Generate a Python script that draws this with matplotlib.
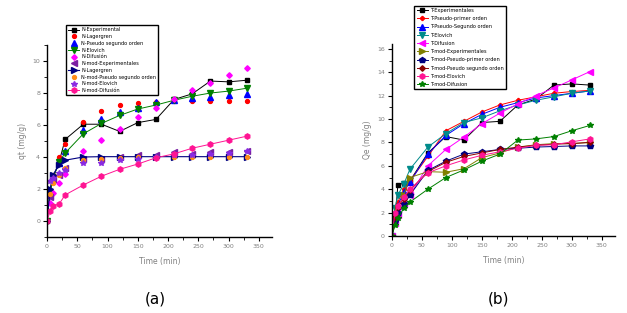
import numpy as np
import matplotlib.pyplot as plt
from matplotlib.ticker import MultipleLocator

# data
t_a = [0, 5, 10, 20, 30, 60, 90, 120, 150, 180, 210, 240, 270, 300, 330]
t_b = [0, 5, 10, 20, 30, 60, 90, 120, 150, 180, 210, 240, 270, 300, 330]

# (a) N series
n_exp = [0, 1.8, 2.7, 3.7, 5.1, 6.05, 6.05, 5.6, 6.15, 6.35, 7.6, 7.95, 8.75, 8.7, 8.8]
n_lag = [0, 1.9, 2.9, 4.0, 4.8, 6.2, 6.9, 7.25, 7.4, 7.45, 7.5, 7.52, 7.52, 7.52, 7.52]
n_pso = [0, 1.6, 2.6, 3.6, 4.4, 5.7, 6.4, 6.8, 7.05, 7.45, 7.55, 7.7, 7.75, 7.85, 7.95]
n_elo = [0, 1.7, 2.7, 3.7, 4.25, 5.45, 6.1, 6.6, 7.0, 7.25, 7.55, 7.8, 8.0, 8.12, 8.3]
n_dif = [0, 1.1, 1.75, 2.4, 2.95, 4.4, 5.05, 5.75, 6.5, 7.05, 7.6, 8.2, 8.65, 9.1, 9.55]
nm_exp = [0, 1.5, 2.6, 2.9, 3.3, 3.9, 3.9, 4.0, 4.1, 4.15, 4.3, 4.2, 4.3, 4.3, 4.35]
nm_lag = [0, 2.0, 2.9, 3.5, 3.8, 4.0, 4.02, 4.02, 4.02, 4.02, 4.02, 4.02, 4.02, 4.02, 4.02]
nm_pso = [0, 1.7, 2.4, 2.9, 3.3, 3.8, 3.9, 3.95, 3.97, 4.0, 4.0, 4.0, 4.0, 4.0, 4.0]
nm_elo = [0, 2.5, 2.7, 3.0, 3.2, 3.6, 3.6, 3.8, 3.9, 4.0, 4.1, 4.15, 4.2, 4.25, 4.35]
nm_dif = [0, 0.6, 0.96, 1.06, 1.63, 2.25, 2.8, 3.23, 3.56, 3.95, 4.2, 4.55, 4.8, 5.05, 5.3]

# (b) T series
t_exp = [0, 1.0, 4.4, 4.5, 4.7, 7.1, 8.5, 8.2, 9.7, 9.8, 11.2, 11.7, 12.9, 13.0, 12.9]
t_ppo = [0, 1.8, 2.9, 4.0, 4.7, 6.8, 9.0, 9.8, 10.6, 11.2, 11.6, 11.9, 12.2, 12.35, 12.45]
t_pso = [0, 1.5, 2.6, 3.8, 4.6, 7.0, 8.6, 9.6, 10.4, 11.0, 11.4, 11.8, 12.0, 12.2, 12.4]
t_elo = [0, 2.4, 3.5, 4.45, 5.7, 7.6, 8.75, 9.7, 10.1, 10.7, 11.2, 11.6, 11.9, 12.2, 12.4]
t_dif = [0, 1.1, 1.8, 2.7, 3.5, 6.0, 7.4, 8.45, 9.6, 10.5, 11.3, 12.0, 12.65, 13.35, 14.05]
tm_exp = [0, 1.5, 2.4, 3.5, 5.0, 5.5, 5.45, 5.75, 6.7, 7.1, 7.6, 7.8, 7.9, 7.9, 8.0]
tm_ppo = [0, 1.3, 2.0, 2.7, 3.5, 5.6, 6.4, 7.0, 7.2, 7.4, 7.5, 7.6, 7.65, 7.7, 7.7]
tm_pso = [0, 1.6, 2.5, 3.2, 3.9, 5.5, 6.3, 6.8, 7.1, 7.4, 7.6, 7.75, 7.85, 7.9, 8.0]
tm_elo = [0, 2.0, 2.6, 3.3, 4.0, 5.4, 6.0, 6.5, 6.9, 7.2, 7.5, 7.75, 7.8, 8.05, 8.3]
tm_dif = [0, 0.9, 1.5, 2.4, 2.9, 4.0, 5.0, 5.65, 6.4, 7.0, 8.2, 8.3, 8.5, 9.0, 9.45]

labels_a = ['N-Experimental', 'N-Lagergren', 'N-Pseudo segundo orden', 'N-Elovich',
            'N-Difusi\u00f3n', 'N-mod-Experimentales', 'N-Lagergren',
            'N-mod-Pseudo segundo orden', 'N-mod-Elovich', 'N-mod-Difusi\u00f3n']
labels_b = ['T-Experimentales', 'T-Pseudo-primer orden', 'T-Pseudo-Segundo orden',
            'T-Elovich', 'T-Difusion', 'T-mod-Experimentales', 'T-mod-Pseudo-primer orden',
            'T-mod-Pseudo segundo orden', 'T-mod-Elovich', 'T-mod-Difusion']

fig = plt.figure(figsize=(6.27, 3.13), dpi=100)
gray = '#808080'


def style_axes(ax, ymaj, ymin):
    for s in ['top', 'right']:
        ax.spines[s].set_visible(False)
    for s in ['left', 'bottom']:
        ax.spines[s].set_linewidth(1.0)
    ax.xaxis.set_major_locator(MultipleLocator(50))
    ax.xaxis.set_minor_locator(MultipleLocator(25))
    ax.yaxis.set_major_locator(MultipleLocator(ymaj))
    ax.yaxis.set_minor_locator(MultipleLocator(ymin))
    ax.tick_params(which='major', length=3, width=0.8, labelsize=4.5, labelcolor=gray, pad=2)
    ax.tick_params(which='minor', length=2, width=0.6)
    ax.set_xlabel('Time (min)', fontsize=5.5, color=gray, labelpad=6)


# (a)
ax1 = fig.add_axes([0.075, 0.243, 0.359, 0.613])
ms = 2.8
ax1.plot(t_a, n_exp, '-s', color='black', lw=0.7, ms=ms, label=labels_a[0])
ax1.plot(t_a[1:], n_lag[1:], 'o', color='red', ms=ms, ls='none', label=labels_a[1])
ax1.plot(t_a[1:], n_pso[1:], '^', color='blue', ms=ms + 1, ls='none', label=labels_a[2])
ax1.plot(t_a, n_elo, '-v', color='green', lw=0.7, ms=ms + 1, label=labels_a[3])
ax1.plot(t_a[1:], n_dif[1:], 'D', color='magenta', ms=ms, ls='none', label=labels_a[4])
ax1.plot(t_a[1:], nm_exp[1:], '<', color='#7a1fa2', ms=ms + 1, ls='none', label=labels_a[5])
ax1.plot(t_a, nm_lag, '->', color='navy', lw=0.8, ms=ms + 1, label=labels_a[6])
ax1.plot(t_a[1:], nm_pso[1:], 'o', color='#ff8c1a', ms=ms, ls='none', label=labels_a[7])
ax1.plot(t_a[1:], nm_elo[1:], '*', color='#8a2be2', ms=ms + 1.5, ls='none', label=labels_a[8])
ax1.plot(t_a, nm_dif, '-h', color='#ff1493', lw=0.7, ms=ms + 1, label=labels_a[9])
ax1.set_xlim(0, 372)
ax1.set_ylim(-1, 11)
style_axes(ax1, 2, 1)
ax1.set_ylabel('qt (mg/g)', fontsize=5.5, color=gray, labelpad=4)
ax1.legend(loc='upper left', bbox_to_anchor=(0.102, 0.927), bbox_transform=fig.transFigure,
           fontsize=3.6, frameon=True, fancybox=False, edgecolor='black', framealpha=1,
           handlelength=2.2, labelspacing=0.35, borderpad=0.4, handletextpad=0.4)
ax1.get_legend().get_frame().set_linewidth(1.0)

# (b)
ax2 = fig.add_axes([0.625, 0.246, 0.356, 0.613])
lw = 0.7
ax2.plot(t_b, t_exp, '-s', color='black', lw=lw, ms=ms, label=labels_b[0])
ax2.plot(t_b, t_ppo, '-P', color='red', lw=lw, ms=ms, label=labels_b[1])
ax2.plot(t_b, t_pso, '-^', color='blue', lw=lw, ms=ms + 1, label=labels_b[2])
ax2.plot(t_b, t_elo, '-v', color='#008b8b', lw=lw, ms=ms + 1, label=labels_b[3])
ax2.plot(t_b, t_dif, '-<', color='magenta', lw=lw, ms=ms + 1, label=labels_b[4])
ax2.plot(t_b, tm_exp, '->', color='#808000', lw=lw, ms=ms + 1, label=labels_b[5])
ax2.plot(t_b, tm_ppo, '-p', color='navy', lw=lw, ms=ms + 1, label=labels_b[6])
ax2.plot(t_b, tm_pso, '-D', color='#8b0000', lw=lw, ms=ms, label=labels_b[7])
ax2.plot(t_b, tm_elo, '-h', color='#ff1493', lw=lw, ms=ms + 1, label=labels_b[8])
ax2.plot(t_b, tm_dif, '-*', color='green', lw=lw, ms=ms + 1.5, label=labels_b[9])
ax2.set_xlim(0, 372)
ax2.set_ylim(0, 16.4)
style_axes(ax2, 2, 1)
ax2.set_ylabel('Qe (mg/g)', fontsize=5.5, color=gray, labelpad=4)
ax2.legend(loc='upper left', bbox_to_anchor=(0.657, 0.99), bbox_transform=fig.transFigure,
           fontsize=3.6, frameon=True, fancybox=False, edgecolor='black', framealpha=1,
           handlelength=2.2, labelspacing=0.65, borderpad=0.45, handletextpad=0.4)
ax2.get_legend().get_frame().set_linewidth(1.0)

fig.text(0.247, 0.03, '(a)', fontsize=11, ha='center')
fig.text(0.795, 0.03, '(b)', fontsize=11, ha='center')

plt.savefig('out.png', dpi=100)
